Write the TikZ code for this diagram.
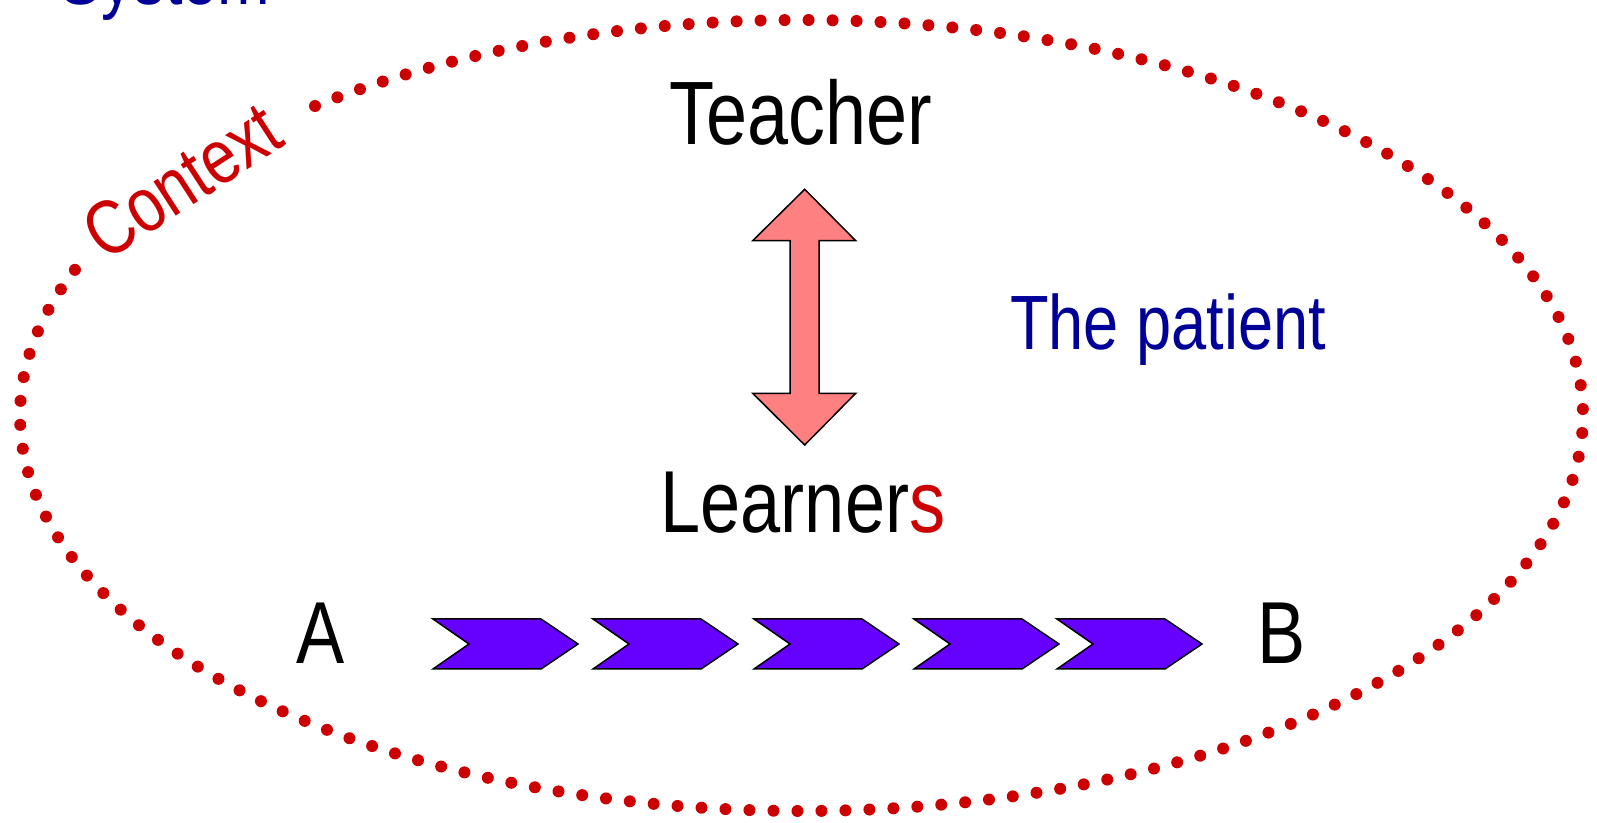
\documentclass[tikz,border=0pt]{standalone}
\usepackage{fontspec}
\setmainfont[FakeStretch=0.82]{Liberation Sans}
\usepackage{tikz}
\definecolor{ctxred}{HTML}{CC0000}
\definecolor{navy}{HTML}{000099}
\definecolor{pinkfill}{HTML}{FF8080}
\definecolor{stepviolet}{HTML}{6600FF}
\tikzset{
  bigtext/.style={font=\fontsize{44}{50}\selectfont, inner sep=0pt, anchor=base},
  midtext/.style={font=\fontsize{38.5}{44}\selectfont, inner sep=0pt},
  chevron/.style={draw=black, line width=0.75pt, fill=stepviolet, line join=miter}
}

\begin{document}
\begin{tikzpicture}[x=0.5pt,y=-0.5pt]
    \clip (0,0) rectangle (1597,823);

    \node[midtext, anchor=base, text=navy] (system) at (165,5) {System};

    % dotted context ellipse, open where the label sits
    \coordinate (ctr) at (801.5,415.5);
    \draw [ctxred, line width=6pt, line cap=round, dash pattern=on 0pt off 12pt]
      ([shift={(231.5:781.5 and 395.5)}]ctr) arc[start angle=231.5, end angle=562, x radius=781.5, y radius=395.5];
    \node[midtext, text=ctxred, rotate=33] (context) at (182,181) {Context};

    \node[bigtext] (teacher) at (801,145) {\fontsize{45}{50}\selectfont Teacher};
    \node[bigtext] (learners) at (803,533) {Learner\textcolor{ctxred}{s}};
    \node[midtext, anchor=base, text=navy] (patient) at (1168,350) {The patient};
    \node[bigtext] (pta) at (321,663) {A};
    \node[bigtext] (ptb) at (1282,663) {B};

    \draw [black, line width=0.75pt, fill=pinkfill, line join=miter]
      (804.7,189.3) -- (855.7,240.7) -- (819,240.7) -- (819,393.3) -- (855.7,393.3)
      -- (804.7,445) -- (752.7,393.3) -- (790,393.3) -- (790,240.7) -- (752.7,240.7) -- cycle;

    \foreach \x in {433,593,754,914,1057}
      \draw [chevron] (\x,619) -- ++(108,0) -- ++(37,25) -- ++(-37,25) -- ++(-108,0) -- ++(36,-25) -- cycle;
  \end{tikzpicture}
\end{document}
